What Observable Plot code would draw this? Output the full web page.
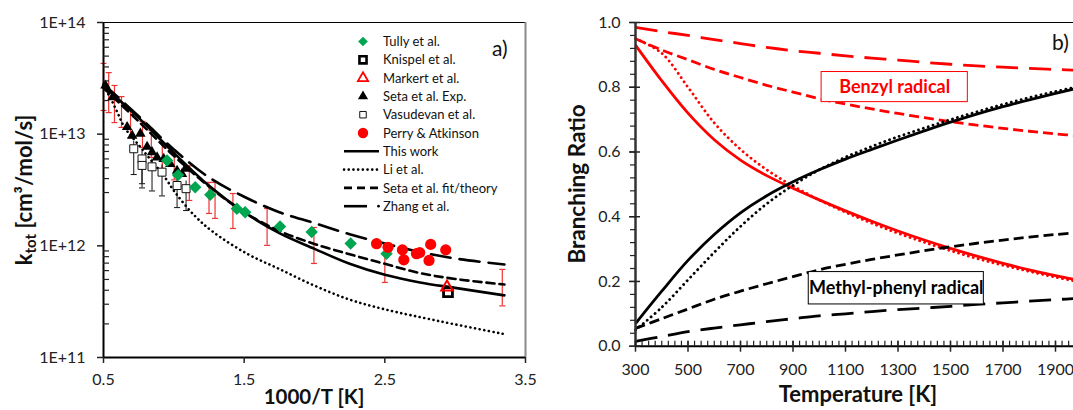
<!DOCTYPE html>
<html><head><meta charset="utf-8">
<script src="https://cdn.jsdelivr.net/npm/d3@7"></script>
<script src="https://cdn.jsdelivr.net/npm/@observablehq/plot@0.6"></script>
<style>
html,body{margin:0;padding:0;background:#fff;overflow:hidden;width:1073px;height:410px;}
#wrap{position:relative;width:1073px;height:410px;overflow:hidden;}
#left,#right{position:absolute;top:0;}
#left{left:0;width:540px;} #right{left:540px;width:560px;}
#left svg,#right svg{max-width:none !important;}
</style></head><body><div id="wrap"><div id="left"></div><div id="right"></div></div>
<script>
const FONT = 'Lato, "Open Sans", "DejaVu Sans", sans-serif';

// ---------------- Panel a) : k_tot vs 1000/T ----------------
const gridA      = [0.5, 0.75, 1.0, 1.25, 1.5, 1.75, 2.0, 2.25, 2.5, 2.75, 3.0, 3.35];
const thisWorkK  = [2.7e13, 1.4e13, 6.8e12, 3.45e12, 2.0e12, 1.3e12, 9.4e11, 6.9e11, 5.5e11, 4.7e11, 4.2e11, 3.6e11];
const setaFitK   = [2.6e13, 1.3e13, 6.4e12, 3.4e12, 2.0e12, 1.36e12, 1.04e12, 8.4e11, 6.9e11, 5.7e11, 5.05e11, 4.5e11];
const zhangK     = [2.8e13, 1.45e13, 7.3e12, 4.1e12, 2.75e12, 2.0e12, 1.6e12, 1.27e12, 1.05e12, 8.8e11, 7.7e11, 6.8e11];
const liX        = [0.5, 0.55, 0.6, 0.65, 0.75, 0.85, 0.92, 1.01, 1.15, 1.28, 1.52, 1.75, 2.0, 2.25, 2.5, 2.9, 3.35];
const liK        = [2.7e13, 2.1e13, 1.55e13, 1.15e13, 8.0e12, 5.6e12, 4.4e12, 3.0e12, 1.85e12, 1.33e12, 8.5e11, 6.2e11, 4.4e11, 3.3e11, 2.7e11, 2.1e11, 1.62e11];

const tullyX     = [0.952, 1.03, 1.152, 1.259, 1.448, 1.507, 1.755, 1.98, 2.257, 2.512];
const tullyK     = [5.8e12, 4.3e12, 3.35e12, 2.87e12, 2.15e12, 2.0e12, 1.49e12, 1.33e12, 1.05e12, 8.5e11];
const knispelX   = [2.949];
const knispelK   = [3.85e11];
const markertX   = [2.942];
const markertK   = [4.27e11];
const setaExpX   = [0.514, 0.564, 0.668, 0.704, 0.762, 0.81, 0.845, 0.881, 0.928, 0.975, 1.023, 1.058, 1.082];
const setaExpK   = [2.73e13, 2.14e13, 1.16e13, 9.7e12, 1.01e13, 7.7e12, 6.9e12, 6.2e12, 6.0e12, 5.4e12, 4.7e12, 4.4e12, 4.9e12];
const vasX       = [0.715, 0.774, 0.774, 0.845, 0.916, 1.023, 1.087];
const vasK       = [7.4e12, 6.0e12, 5.25e12, 5.1e12, 4.57e12, 3.47e12, 3.25e12];
const vasLo      = [4.35e12, 3.6e12, 3.3e12, 3.1e12, 2.8e12, 2.2e12, 2.07e12];
const vasHi      = [8.6e12, 7.0e12, 6.2e12, 6.0e12, 5.3e12, 4.1e12, 3.8e12];
const perryX     = [2.441, 2.523, 2.625, 2.635, 2.725, 2.748, 2.814, 2.826, 2.933];
const perryK     = [1.045e12, 9.7e11, 9.2e11, 7.5e11, 8.5e11, 8.7e11, 7.4e11, 1.03e12, 9.2e11];
const errX       = [0.5, 0.537, 0.578, 0.628, 0.692, 0.777, 0.84, 0.918, 1.003, 1.11, 1.25, 1.293, 1.42, 1.663, 1.996, 2.5, 3.335];
const errHi      = [4.3e13, 3.56e13, 2.73e13, 2.17e13, 1.63e13, 1.3e13, 1.08e13, 8.4e12, 6.9e12, 5.2e12, 3.7e12, 3.7e12, 2.94e12, 2.16e12, 1.46e12, 1.05e12, 6.15e11];
const errLo      = [1.63e13, 1.56e13, 1.27e13, 1.15e13, 9.3e12, 7.6e12, 6.2e12, 4.9e12, 3.9e12, 2.55e12, 1.95e12, 1.76e12, 1.43e12, 1.01e12, 6.95e11, 4.7e11, 2.9e11];

const kTicks     = [1e11, 1e12, 1e13, 1e14];
const invTTicks  = [0.5, 1.5, 2.5, 3.5];
const legendNames = ["Tully et al.", "Knispel et al.", "Markert et al.", "Seta et al. Exp.", "Vasudevan et al.", "Perry & Atkinson", "This work", "Li et al.", "Seta et al. fit/theory", "Zhang et al."];

// ---------------- Panel b) : branching ratio vs T ----------------
const tempK       = [300, 400, 500, 600, 700, 800, 900, 1000, 1100, 1200, 1300, 1400, 1500, 1600, 1700, 1800, 1900, 2000];
const benzylThis  = [0.93, 0.82, 0.72, 0.638, 0.575, 0.527, 0.488, 0.452, 0.418, 0.386, 0.356, 0.328, 0.302, 0.278, 0.256, 0.236, 0.218, 0.202];
const benzylLi    = [0.95, 0.905, 0.80, 0.69, 0.608, 0.545, 0.495, 0.452, 0.414, 0.38, 0.349, 0.321, 0.295, 0.271, 0.25, 0.231, 0.213, 0.197];
const benzylSeta  = [0.95, 0.915, 0.885, 0.855, 0.83, 0.806, 0.785, 0.765, 0.748, 0.733, 0.719, 0.706, 0.694, 0.683, 0.673, 0.664, 0.656, 0.649];
const benzylZhang = [0.985, 0.972, 0.96, 0.947, 0.935, 0.923, 0.913, 0.905, 0.897, 0.89, 0.884, 0.877, 0.871, 0.866, 0.862, 0.858, 0.855, 0.852];
const mpThis      = [0.07, 0.17, 0.265, 0.345, 0.412, 0.465, 0.508, 0.545, 0.578, 0.608, 0.637, 0.665, 0.692, 0.717, 0.74, 0.761, 0.781, 0.80];
const mpLi        = [0.05, 0.12, 0.205, 0.29, 0.37, 0.44, 0.497, 0.545, 0.584, 0.617, 0.647, 0.674, 0.70, 0.724, 0.747, 0.768, 0.787, 0.804];
const mpSeta      = [0.055, 0.085, 0.115, 0.145, 0.17, 0.193, 0.215, 0.236, 0.253, 0.268, 0.282, 0.295, 0.307, 0.318, 0.328, 0.337, 0.345, 0.352];
const mpZhang     = [0.015, 0.03, 0.045, 0.056, 0.066, 0.076, 0.085, 0.094, 0.10, 0.107, 0.113, 0.118, 0.123, 0.129, 0.134, 0.139, 0.144, 0.148];
const ratioTicks  = [0, 0.2, 0.4, 0.6, 0.8, 1.0];
const tempTicks   = [300, 500, 700, 900, 1100, 1300, 1500, 1700, 1900];
const annotations = [
  {label: "Benzyl radical", color: "#ff0000", t1: 1009, t2: 1566, r1: 0.754, r2: 0.847},
  {label: "Methyl-phenyl radical", color: "#000000", t1: 960, t2: 1627, r1: 0.129, r2: 0.229}
];

// ---------- helpers ----------
const zip = (xs, ys) => xs.map((x, i) => ({x, y: ys[i]}));
const capSymbol = {draw(ctx, size) { const w = Math.sqrt(size); ctx.moveTo(-w / 2, 0); ctx.lineTo(w / 2, 0); }};
const RED = "#ff0000", GREEN = "#00a550", BARRED = "#ee3333";

// ================= LEFT PLOT =================
const errData = errX.map((x, i) => ({x, lo: errLo[i], hi: errHi[i]}));
const vasData = vasX.map((x, i) => ({x, y: vasK[i], lo: vasLo[i], hi: vasHi[i]}));
const minorK = [];
for (let e = 11; e < 14; e++) for (let m = 2; m <= 9; m++) minorK.push(m * Math.pow(10, e));

const plotA = Plot.plot({
  width: 540, height: 410,
  marginLeft: 103, marginRight: 15, marginTop: 22, marginBottom: 53,
  x: {domain: [0.5, 3.5]},
  y: {type: "log", domain: [1e11, 1e14]},
  style: {fontFamily: FONT, fontSize: "16px", color: "#222", background: "transparent", overflow: "visible", maxWidth: "none"},
  marks: [
    Plot.ruleX(errData, {x: "x", y1: "lo", y2: "hi", stroke: BARRED, strokeWidth: 1.2}),
    Plot.dot(errData, {x: "x", y: "lo", symbol: capSymbol, r: 3.4, stroke: BARRED, strokeWidth: 1.2, fill: "none"}),
    Plot.dot(errData, {x: "x", y: "hi", symbol: capSymbol, r: 3.4, stroke: BARRED, strokeWidth: 1.2, fill: "none"}),
    Plot.ruleX(vasData, {x: "x", y1: "lo", y2: "hi", stroke: "#111", strokeWidth: 1}),
    Plot.dot(vasData, {x: "x", y: "lo", symbol: capSymbol, r: 3.4, stroke: "#111", strokeWidth: 1, fill: "none"}),
    Plot.line(zip(liX, liK), {x: "x", y: "y", stroke: "#000", strokeWidth: 2.6, strokeDasharray: "0.1 4.6", strokeLinecap: "round", curve: "catmull-rom"}),
    Plot.line(zip(gridA, zhangK), {x: "x", y: "y", stroke: "#000", strokeWidth: 2.6, strokeDasharray: "20 9", curve: "catmull-rom"}),
    Plot.line(zip(gridA, setaFitK), {x: "x", y: "y", stroke: "#000", strokeWidth: 2.6, strokeDasharray: "8 5", curve: "catmull-rom"}),
    Plot.line(zip(gridA, thisWorkK), {x: "x", y: "y", stroke: "#000", strokeWidth: 2.6, curve: "catmull-rom"}),
    Plot.dot(zip(vasX, vasK), {x: "x", y: "y", symbol: "square", r: 4.5, fill: "#fff", stroke: "#111", strokeWidth: 1}),
    Plot.dot(zip(setaExpX, setaExpK), {x: "x", y: "y", symbol: "triangle", r: 3.9, fill: "#000"}),
    Plot.dot(zip(tullyX, tullyK), {x: "x", y: "y", symbol: "diamond2", r: 5.6, fill: GREEN}),
    Plot.dot(zip(perryX, perryK), {x: "x", y: "y", r: 5.6, fill: RED}),
    Plot.dot(zip(knispelX, knispelK), {x: "x", y: "y", symbol: "square", r: 5.0, fill: "#fff", stroke: "#000", strokeWidth: 2.8}),
    Plot.dot(zip(markertX, markertK), {x: "x", y: "y", symbol: "triangle", r: 4.3, fill: "none", stroke: RED, strokeWidth: 2}),
    Plot.ruleY([1e14], {stroke: "#000", strokeWidth: 1}),
    Plot.ruleX([3.5], {stroke: "#8a8a8a", strokeWidth: 2}),
    Plot.ruleX([0.5], {stroke: "#000", strokeWidth: 2}),
    Plot.ruleY([1e11], {stroke: "#000", strokeWidth: 2}),
    Plot.axisY(kTicks, {anchor: "left", tickSize: 6, tickPadding: 12, tickFormat: d => "1E+" + Math.round(Math.log10(d)), label: null, strokeWidth: 1.5}),
    Plot.axisY(minorK, {anchor: "left", tickSize: -6, tickFormat: () => "", label: null, strokeWidth: 1.2}),
    Plot.axisX(invTTicks, {anchor: "bottom", tickSize: 6, tickPadding: 10, tickFormat: d => d.toFixed(1), label: null, strokeWidth: 1.5})
  ]
});
document.getElementById("left").appendChild(plotA);

{
  const svg = d3.select(plotA);
  const yt = svg.append("text").attr("transform", "translate(32,190) rotate(-90)")
    .attr("text-anchor", "middle").attr("font-family", FONT).attr("font-weight", "bold").attr("font-size", 22).attr("fill", "#111");
  yt.append("tspan").text("k");
  yt.append("tspan").attr("font-size", 15).attr("dy", 4).text("tot");
  yt.append("tspan").attr("dy", -4).text(" [cm³/mol/s]");
  svg.append("text").attr("x", 314).attr("y", 404).attr("text-anchor", "middle")
    .attr("font-family", FONT).attr("font-weight", "bold").attr("font-size", 20.5).attr("fill", "#111").text("1000/T [K]");
  svg.append("text").attr("x", 492).attr("y", 56).attr("text-anchor", "start").attr("font-family", FONT).attr("font-size", 21).attr("fill", "#111").text("a)");

  const g = svg.append("g").attr("font-family", FONT).attr("font-size", 13).attr("fill", "#111").attr("text-anchor", "start");
  const rowY = i => 41.5 + i * 18.3;
  const symX = 363, textX = 383;
  const syms = [
    {type: d3.symbolDiamond2, size: 60, fill: GREEN, stroke: "none", sw: 0},
    {type: d3.symbolSquare, size: 50, fill: "#fff", stroke: "#000", sw: 2.6},
    {type: d3.symbolTriangle, size: 45, fill: "#fff", stroke: RED, sw: 1.8},
    {type: d3.symbolTriangle, size: 45, fill: "#000", stroke: "none", sw: 0},
    {type: d3.symbolSquare, size: 42, fill: "#fff", stroke: "#111", sw: 1},
    {type: d3.symbolCircle, size: 85, fill: RED, stroke: "none", sw: 0}
  ];
  const lines = [
    {dash: null},
    {dash: "0.1 4.6", cap: "round"},
    {dash: "8 5"},
    {dash: null, zhang: true}
  ];
  legendNames.forEach((name, i) => {
    const y = rowY(i);
    if (i < syms.length) {
      const s = syms[i];
      g.append("path").attr("transform", `translate(${symX},${y})`).attr("d", d3.symbol(s.type, s.size)())
        .attr("fill", s.fill).attr("stroke", s.stroke).attr("stroke-width", s.sw);
    } else {
      const l = lines[i - syms.length];
      if (l.zhang) {
        g.append("line").attr("x1", 344).attr("x2", 367).attr("y1", y).attr("y2", y).attr("stroke", "#000").attr("stroke-width", 2.6);
        g.append("circle").attr("cx", 378.5).attr("cy", y).attr("r", 1.4).attr("fill", "#000");
      } else {
        const ln = g.append("line").attr("x1", 344).attr("x2", 379).attr("y1", y).attr("y2", y).attr("stroke", "#000").attr("stroke-width", 2.6);
        if (l.dash) ln.attr("stroke-dasharray", l.dash);
        if (l.cap) ln.attr("stroke-linecap", l.cap);
      }
    }
    g.append("text").attr("x", textX).attr("y", y).attr("dy", "0.36em").text(name);
  });
}

// ================= RIGHT PLOT =================
const seriesB = [
  {v: benzylZhang, stroke: RED, dash: "22 11"},
  {v: benzylSeta, stroke: RED, dash: "10 5"},
  {v: benzylLi, stroke: RED, dash: "0.1 5", cap: "round"},
  {v: benzylThis, stroke: RED, dash: null},
  {v: mpZhang, stroke: "#000", dash: "22 11"},
  {v: mpSeta, stroke: "#000", dash: "10 5"},
  {v: mpLi, stroke: "#000", dash: "0.1 5", cap: "round"},
  {v: mpThis, stroke: "#000", dash: null}
];
const minorR = d3.range(0, 1.0001, 0.04).map(d => +d.toFixed(2));
const minorT = d3.range(300, 2001, 25);

const plotB = Plot.plot({
  width: 560, height: 410,
  marginLeft: 95, marginRight: 18.75, marginTop: 22, marginBottom: 64.3,
  x: {domain: [300, 2000]},
  y: {domain: [0, 1]},
  style: {fontFamily: FONT, fontSize: "16px", color: "#222", background: "transparent", overflow: "visible", maxWidth: "none"},
  marks: [
    ...seriesB.map(s => Plot.line(zip(tempK, s.v), {x: "x", y: "y", stroke: s.stroke, strokeWidth: 2.8,
      strokeDasharray: s.dash || undefined, strokeLinecap: s.cap || "butt", curve: "catmull-rom"})),
    Plot.rect(annotations, {x1: "t1", x2: "t2", y1: "r1", y2: "r2", fill: "#fff", stroke: "color", strokeWidth: 1}),
    Plot.text(annotations, {x: d => (d.t1 + d.t2) / 2, y: d => (d.r1 + d.r2) / 2, text: "label", fill: "color",
      fontWeight: "bold", fontSize: 18, textAnchor: "middle"}),
    Plot.ruleY([1], {stroke: "#000", strokeWidth: 1}),
    Plot.ruleX([300], {stroke: "#333", strokeWidth: 2.5}),
    Plot.ruleY([0], {stroke: "#000", strokeWidth: 2}),
    Plot.axisY(ratioTicks, {anchor: "left", tickSize: 6, tickPadding: 9, tickFormat: d => d.toFixed(1), label: null, strokeWidth: 1.5}),
    Plot.axisY(ratioTicks, {anchor: "left", tickSize: -5, tickFormat: () => "", label: null, strokeWidth: 1.5}),
    Plot.axisY(minorR, {anchor: "left", tickSize: 5, tickFormat: () => "", label: null, strokeWidth: 1.2}),
    Plot.axisX(tempTicks, {anchor: "bottom", tickSize: 6, tickPadding: 11, tickFormat: d => String(d), label: null, strokeWidth: 1.5}),
    Plot.axisX(tempTicks, {anchor: "bottom", tickSize: -5, tickFormat: () => "", label: null, strokeWidth: 1.5}),
    Plot.axisX(minorT, {anchor: "bottom", tickSize: -5, tickFormat: () => "", label: null, strokeWidth: 1.2})
  ]
});
document.getElementById("right").appendChild(plotB);
{
  const svg = d3.select(plotB);
  svg.append("text").attr("transform", "translate(45,184) rotate(-90)").attr("text-anchor", "middle")
    .attr("font-family", FONT).attr("font-weight", "bold").attr("font-size", 22.5).attr("fill", "#111").text("Branching Ratio");
  svg.append("text").attr("x", 318).attr("y", 402).attr("text-anchor", "middle")
    .attr("font-family", FONT).attr("font-weight", "bold").attr("font-size", 22).attr("fill", "#111").text("Temperature [K]");
  svg.append("text").attr("x", 512).attr("y", 50).attr("text-anchor", "start").attr("font-family", FONT).attr("font-size", 21).attr("fill", "#111").text("b)");
}
</script></body></html>
